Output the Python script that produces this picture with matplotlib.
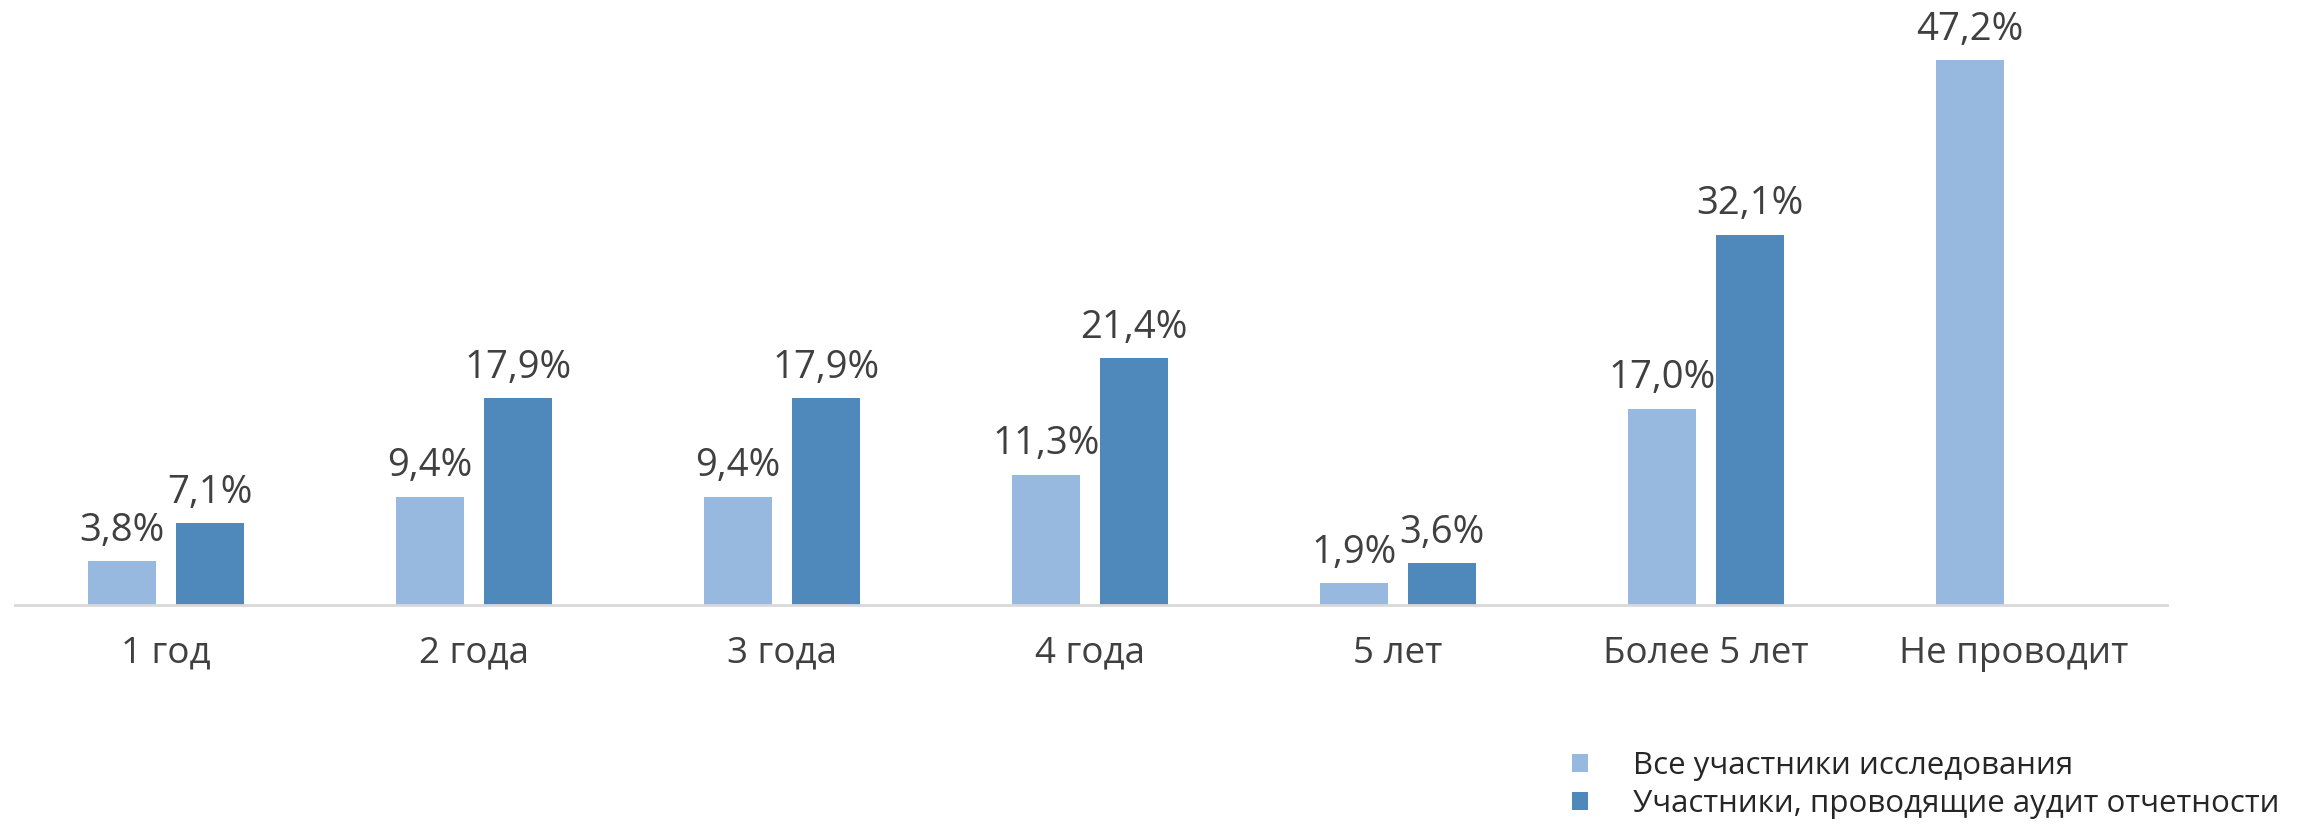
import matplotlib
matplotlib.use("Agg")
import matplotlib.pyplot as plt
import numpy as np
from matplotlib.patches import Patch

categories = ["1 год", "2 года", "3 года", "4 года", "5 лет", "Более 5 лет", "Не проводит"]
all_participants = [3.8, 9.4, 9.4, 11.3, 1.9, 17.0, 47.2]
audit_participants = [7.1, 17.9, 17.9, 21.4, 3.6, 32.1, None]
series_names = ["Все участники исследования", "Участники, проводящие аудит отчетности"]

light = "#98B9DF"
dark = "#4F89BC"
txt = "#404040"

plt.rcParams['font.family'] = ['Open Sans', 'DejaVu Sans']

fig = plt.figure(figsize=(23.08, 8.26), dpi=100)
ax = fig.add_axes([15/2308, 221/826, 2152/2308, (605-28)/826])

x = np.arange(len(categories))
w = 0.22
off = 0.143

def fmt(v):
    return f"{v:.1f}%".replace(".", ",")

for i, v in enumerate(all_participants):
    ax.bar(x[i] - off, v, w, color=light)
    ax.text(x[i] - off, v + 1.0, fmt(v), ha="center", va="bottom", fontsize=27.5, color=txt)
for i, v in enumerate(audit_participants):
    if v is None:
        continue
    ax.bar(x[i] + off, v, w, color=dark)
    ax.text(x[i] + off, v + 1.0, fmt(v), ha="center", va="bottom", fontsize=27.5, color=txt)

ax.set_xlim(-0.49, 6.497)
ax.set_ylim(0, 50)
ax.set_xticks(x)
ax.set_xticklabels(categories, fontsize=26.5, color=txt)
ax.tick_params(axis="x", length=0, pad=22)
ax.set_yticks([])
for s in ["top", "right", "left"]:
    ax.spines[s].set_visible(False)
ax.spines["bottom"].set_color("#D9D9D9")
ax.spines["bottom"].set_linewidth(2)

handles = [Patch(facecolor=light), Patch(facecolor=dark)]
leg = fig.legend(handles, series_names, loc="upper left", bbox_to_anchor=(1572/2308, 1 - 751/826),
                 frameon=False, fontsize=22.5, handlelength=0.5, handleheight=0.5,
                 handletextpad=1.45, labelspacing=0.27, borderpad=0, borderaxespad=0)
for t in leg.get_texts():
    t.set_color("#262626")

fig.savefig("out.png", dpi=100)
